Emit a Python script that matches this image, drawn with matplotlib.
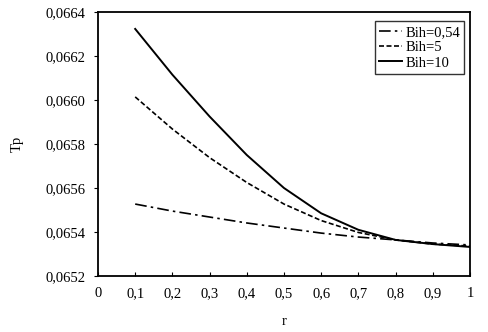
import numpy as np
import matplotlib
matplotlib.use('Agg')
import matplotlib.pyplot as plt

plt.rcParams['font.family'] = 'Liberation Serif'

# radius r and temperature Tp for three Biot numbers
r = [0.1, 0.2, 0.3, 0.4, 0.5, 0.6, 0.7, 0.8, 0.9, 1.0]
tp_bih054 = [0.065527, 0.065495, 0.065468, 0.065441, 0.065418,
             0.065395, 0.065377, 0.065364, 0.065350, 0.065341]
tp_bih5 = [0.066014, 0.065868, 0.065738, 0.065625, 0.065527,
           0.065452, 0.065398, 0.065364, 0.065345, 0.065336]
tp_bih10 = [0.066323, 0.066115, 0.065925, 0.065750, 0.065600,
            0.065485, 0.065410, 0.065364, 0.065345, 0.065332]

xticks = [0, 0.1, 0.2, 0.3, 0.4, 0.5, 0.6, 0.7, 0.8, 0.9, 1.0]
xtick_labels = ['0', '0,1', '0,2', '0,3', '0,4', '0,5', '0,6', '0,7', '0,8', '0,9', '1']
yticks = [0.0652, 0.0654, 0.0656, 0.0658, 0.0660, 0.0662, 0.0664]
ytick_labels = ['0,0652', '0,0654', '0,0656', '0,0658', '0,0660', '0,0662', '0,0664']

fig = plt.figure(figsize=(4.89, 3.32), dpi=100)
ax = fig.add_axes([0.2004, 0.1687, 0.7606, 0.7952])

ax.plot(r, tp_bih054, color='black', lw=1.2, linestyle=(0, (7, 2.5, 1.5, 2.5)), label='Bih=0,54')
ax.plot(r, tp_bih5, color='black', lw=1.2, linestyle=(0, (3, 1.5)), label='Bih=5')
ax.plot(r, tp_bih10, color='black', lw=1.4, linestyle='-', label='Bih=10')

ax.set_xlim(0, 1)
ax.set_ylim(0.0652, 0.0664)
ax.set_xticks(xticks)
ax.set_xticklabels(xtick_labels)
ax.set_yticks(yticks)
ax.set_yticklabels(ytick_labels)
ax.tick_params(axis='x', direction='in', length=3, labelsize=10.5, pad=8)
ax.tick_params(axis='y', direction='out', length=3, labelsize=10.5, pad=6)

for s in ax.spines.values():
    s.set_linewidth(1.3)

ax.set_xlabel('r', fontsize=10.5, labelpad=11)
ax.set_ylabel('Tp', fontsize=10.5, labelpad=16)

leg = ax.legend(loc='upper right', fontsize=10.5, frameon=True, fancybox=False,
                handlelength=1.6, handletextpad=0.2, borderpad=0.3,
                labelspacing=0.15, bbox_to_anchor=(0.985, 0.965), borderaxespad=0)
leg.get_frame().set_edgecolor('black')
leg.get_frame().set_linewidth(1.0)

fig.savefig('out.png', dpi=100)
